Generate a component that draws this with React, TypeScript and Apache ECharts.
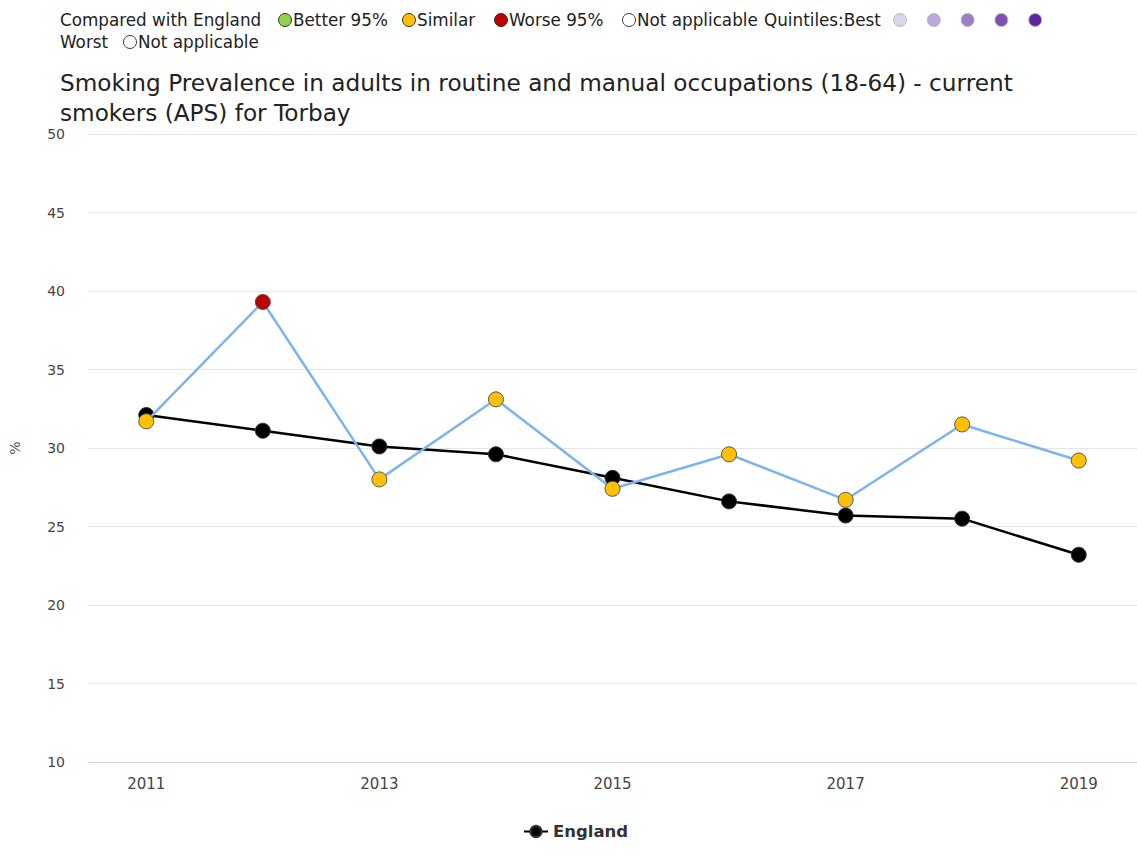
import React, { useEffect, useRef } from "react";
import * as echarts from "echarts";

const years = ["2011", "2012", "2013", "2014", "2015", "2016", "2017", "2018", "2019"];
const torbayValues = [31.7, 39.3, 28.0, 33.1, 27.4, 29.6, 26.7, 31.5, 29.2];
const torbaySignificance = ["similar", "worse", "similar", "similar", "similar", "similar", "similar", "similar", "similar"];
const englandValues = [32.1, 31.1, 30.1, 29.6, 28.1, 26.6, 25.7, 25.5, 23.2];
const yTicks = { min: 10, max: 50, interval: 5 };
const titleText = "Smoking Prevalence in adults in routine and manual occupations (18-64) - current\nsmokers (APS) for Torbay";

const sigColors: Record<string, string> = {
  better: "#92D050",
  similar: "#FFC000",
  worse: "#C00000",
  na: "#FFFFFF",
};
const quintileColors = ["#DED3EC", "#BEA7DA", "#9E7CC8", "#7E50B5", "#5D24A3"];

const FONT = "DejaVu Sans";

export default function App() {
  const ref = useRef<HTMLDivElement>(null);
  useEffect(() => {
    if (!ref.current) return;
    const chart = echarts.init(ref.current, undefined, { renderer: "svg" });

    const legendFont = `16.8px "${FONT}"`;
    const txt = (x: number, y: number, text: string) => ({
      type: "text",
      x,
      y,
      style: { text, font: legendFont, fill: "#222", textVerticalAlign: "middle" },
    });
    const dot = (cx: number, cy: number, fill: string, stroke: string) => ({
      type: "circle",
      shape: { cx, cy, r: 6.5 },
      style: { fill, stroke, lineWidth: 1 },
    });

    const graphics: any[] = [
      txt(60, 20, "Compared with England"),
      dot(285, 20, sigColors.better, "#333"),
      txt(293, 20, "Better 95%"),
      dot(409, 20, sigColors.similar, "#333"),
      txt(417, 20, "Similar"),
      dot(501, 20, sigColors.worse, "#333"),
      txt(509, 20, "Worse 95%"),
      dot(629, 20, sigColors.na, "#333"),
      txt(637, 20, "Not applicable"),
      txt(764, 20, "Quintiles:Best"),
      ...quintileColors.map((c, i) => dot(900 + i * 33.8, 20, c, "#bbb")),
      txt(60, 42, "Worst"),
      dot(130, 42, sigColors.na, "#333"),
      txt(138, 42, "Not applicable"),
    ];

    chart.setOption({
      animation: false,
      textStyle: { fontFamily: FONT },
      title: {
        text: titleText,
        left: 60,
        top: 67,
        padding: 0,
        textStyle: { fontFamily: FONT, fontSize: 23.2, fontWeight: "normal", color: "#222", lineHeight: 30 },
      },
      graphic: graphics,
      legend: {
        data: ["England"],
        bottom: 9,
        left: 518,
        itemWidth: 24,
        itemHeight: 14,
        textStyle: { fontFamily: FONT, fontSize: 16.5, fontWeight: "bold", color: "#333" },
      },
      grid: { left: 87, right: 0, top: 134, bottom: 92, containLabel: false },
      xAxis: {
        type: "category",
        data: years,
        boundaryGap: true,
        axisLine: { lineStyle: { color: "#ccd6eb" } },
        axisTick: { alignWithLabel: true, interval: 0, lineStyle: { color: "#ccd6eb" } },
        axisLabel: { interval: 1, color: "#444", fontSize: 15, fontFamily: FONT, margin: 14 },
      },
      yAxis: {
        type: "value",
        min: yTicks.min,
        max: yTicks.max,
        interval: yTicks.interval,
        name: "%",
        nameLocation: "middle",
        nameGap: 66,
        nameTextStyle: { color: "#555", fontSize: 14, fontFamily: FONT },
        axisLine: { show: false },
        axisTick: { show: false },
        axisLabel: { color: "#444", fontSize: 14, fontFamily: FONT, margin: 23 },
        splitLine: { lineStyle: { color: "#e6e6e6" } },
      },
      series: [
        {
          name: "England",
          type: "line",
          data: englandValues,
          symbol: "circle",
          symbolSize: 15,
          lineStyle: { color: "#000", width: 2.5 },
          itemStyle: { color: "#000", borderColor: "#333", borderWidth: 1 },
          z: 2,
        },
        {
          name: "Torbay",
          type: "line",
          data: torbayValues.map((v, i) => ({
            value: v,
            itemStyle: { color: sigColors[torbaySignificance[i]] },
          })),
          symbol: "circle",
          symbolSize: 15,
          lineStyle: { color: "#7cb5ec", width: 2.5 },
          itemStyle: { color: sigColors.similar, borderColor: "#555", borderWidth: 1 },
          z: 3,
        },
      ],
    });
    return () => chart.dispose();
  }, []);
  return <div ref={ref} style={{ position: "absolute", left: 0, top: 0, width: 1137, height: 854 }} />;
}
